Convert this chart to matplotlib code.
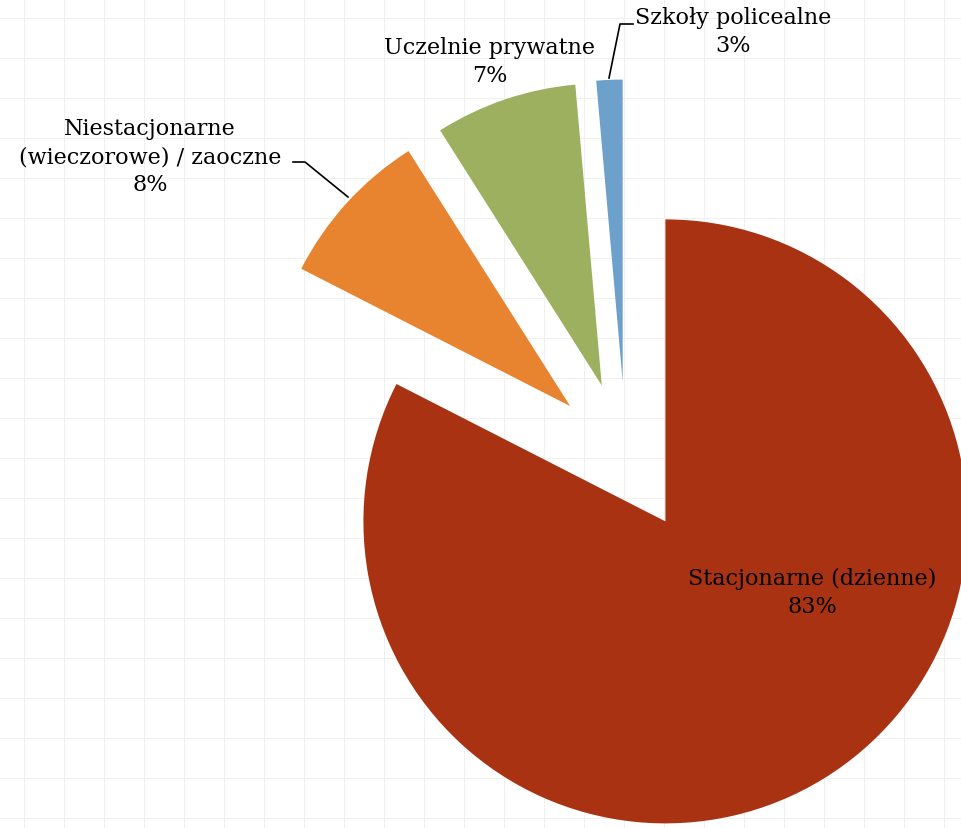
import matplotlib.pyplot as plt
from matplotlib.lines import Line2D

# shares (labels as printed on the chart)
categories = ["Stacjonarne (dzienne)", "Niestacjonarne\n(wieczorowe) / zaoczne",
              "Uczelnie prywatne", "Szkoły policealne"]
values = [82.6, 8.5, 7.6, 1.4]
pct_labels = ["83%", "8%", "7%", "3%"]
colors = ["#A83211", "#E8832F", "#9DB05F", "#6DA0CB"]

W, H = 961, 829
fig = plt.figure(figsize=(W / 100, H / 100), dpi=100)

# faint sheet grid in the background
bg = fig.add_axes([0, 0, 1, 1])
bg.set_xlim(0, W)
bg.set_ylim(H, 0)
bg.set_xticks(range(24, W, 40))
bg.set_yticks(range(19, H, 40))
bg.grid(True, color="#f0f0f0", lw=0.8)
bg.tick_params(length=0, labelbottom=False, labelleft=False)
for s in bg.spines.values():
    s.set_visible(False)

ax = fig.add_axes([0, 0, 1, 1])
ax.patch.set_alpha(0)
wedges, _ = ax.pie(values, colors=colors, startangle=90, counterclock=False,
                   explode=[0.25] * len(values), radius=1,
                   wedgeprops=dict(linewidth=0))
ax.set_aspect("auto")
ax.set_xlim(-626 / 302, (W - 626) / 302)
ax.set_ylim(-(H - 458) / 302, 458 / 302)
ax.axis("off")

# overlay in pixel coords for labels and leader lines
ov = fig.add_axes([0, 0, 1, 1])
ov.patch.set_alpha(0)
ov.set_xlim(0, W)
ov.set_ylim(H, 0)
ov.axis("off")

font = dict(family=["DejaVu Serif"], fontsize=16,
            ha="center", va="center", linespacing=1.38)
label_pos = [(812, 593), (150, 157), (490, 62), (733, 32)]
for cat, pct, (x, y) in zip(categories, pct_labels, label_pos):
    ov.text(x, y, cat + "\n" + pct, color="black", **font)

ov.add_line(Line2D([293, 305, 348], [163, 163, 198], color="black", lw=1.2))
ov.add_line(Line2D([633, 620, 609], [25, 25, 79], color="black", lw=1.2))

fig.savefig("out.png", dpi=100)
